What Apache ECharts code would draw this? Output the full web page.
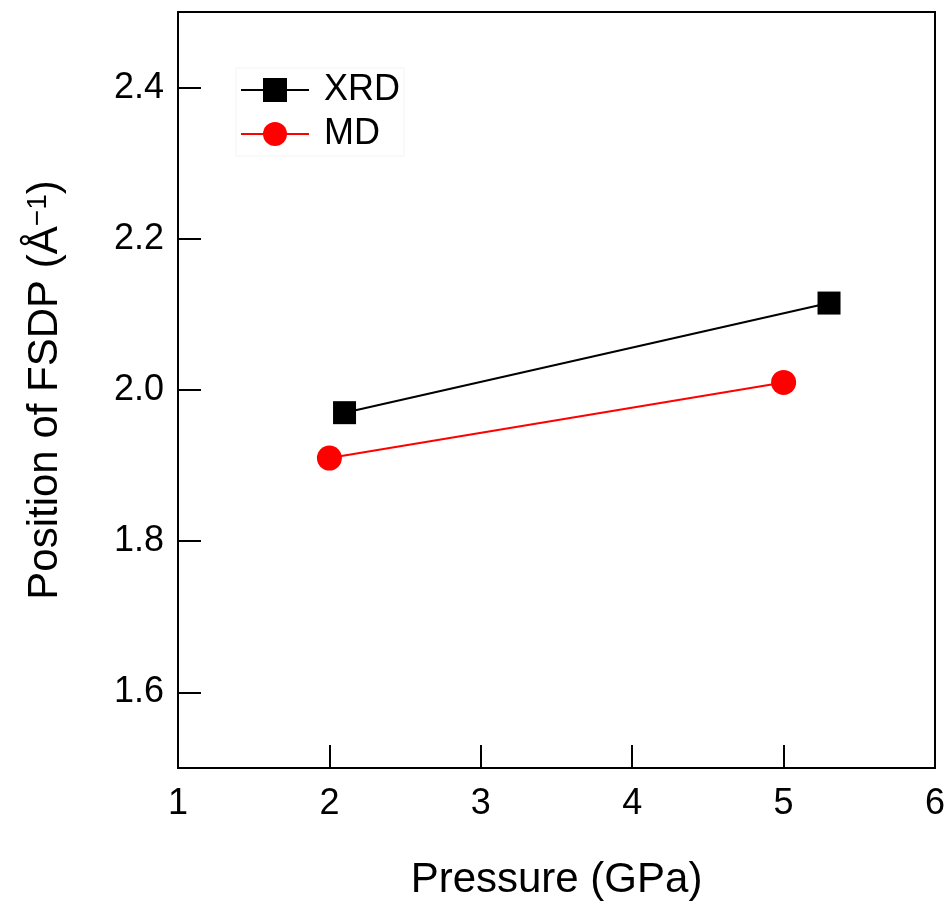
<!DOCTYPE html>
<html>
<head>
<meta charset="utf-8">
<script src="https://cdn.jsdelivr.net/npm/echarts@6/dist/echarts.min.js"></script>
<style>
  html, body { margin: 0; padding: 0; background: #fff; }
  #chart { width: 950px; height: 906px; }
</style>
</head>
<body>
<div id="chart"></div>
<script>
// FSDP peak position vs. pressure
const xrdPressure = [2.1, 5.3];
const xrdFsdp = [1.97, 2.115];
const mdPressure = [2.0, 5.0];
const mdFsdp = [1.91, 2.01];
const yTicks = [1.6, 1.8, 2.0, 2.2, 2.4];

const font = 'Liberation Sans, Arial, sans-serif';

const chart = echarts.init(document.getElementById('chart'));
chart.setOption({
  animation: false,
  backgroundColor: '#fff',
  grid: { left: 178, right: 15, top: 12, bottom: 138, show: true, borderColor: '#000', borderWidth: 2 },
  legend: {
    orient: 'vertical',
    left: 236, top: 68,
    itemWidth: 68, itemHeight: 30, itemGap: 8,
    backgroundColor: '#fff',
    borderColor: '#f4f4f4', borderWidth: 1, padding: [4, 4, 4, 4],
    textStyle: { fontFamily: font, fontSize: 36, color: '#000', lineHeight: 30, padding: [0, 0, 0, 10] },
    data: ['XRD', 'MD']
  },
  xAxis: {
    type: 'value', min: 1, max: 6, interval: 1,
    name: 'Pressure (GPa)', nameLocation: 'middle', nameGap: 91,
    nameTextStyle: { fontFamily: font, fontSize: 42, color: '#000' },
    axisLine: { show: true, lineStyle: { color: '#000', width: 2 } },
    axisTick: { show: true, inside: true, length: 23, lineStyle: { color: '#000', width: 2 } },
    axisLabel: { fontFamily: font, fontSize: 36, color: '#000', margin: 18 },
    splitLine: { show: false }
  },
  yAxis: {
    type: 'value', min: 1.5, max: 2.5,
    name: '{t|Position of FSDP (Å}{s|−1}{t|)}', nameLocation: 'middle', nameGap: 112, nameRotate: 90,
    nameTextStyle: {
      rich: {
        t: { fontFamily: font, fontSize: 42, color: '#000' },
        s: { fontFamily: font, fontSize: 28, color: '#000', verticalAlign: 'top', lineHeight: 24, padding: [0, 0, 16, 0] }
      }
    },
    axisLine: { show: true, lineStyle: { color: '#000', width: 2 } },
    axisTick: { show: true, inside: true, length: 23, customValues: yTicks, lineStyle: { color: '#000', width: 2 } },
    axisLabel: {
      fontFamily: font, fontSize: 36, color: '#000', margin: 14,
      customValues: yTicks,
      formatter: v => v.toFixed(1)
    },
    splitLine: { show: false }
  },
  series: [
    {
      name: 'XRD', type: 'line',
      data: xrdPressure.map((p, i) => [p, xrdFsdp[i]]),
      symbol: 'rect', symbolSize: 23,
      itemStyle: { color: '#000' },
      lineStyle: { color: '#000', width: 2 }
    },
    {
      name: 'MD', type: 'line',
      data: mdPressure.map((p, i) => [p, mdFsdp[i]]),
      symbol: 'circle', symbolSize: 25,
      itemStyle: { color: '#ff0000' },
      lineStyle: { color: '#ff0000', width: 2 }
    }
  ]
});
</script>
</body>
</html>
